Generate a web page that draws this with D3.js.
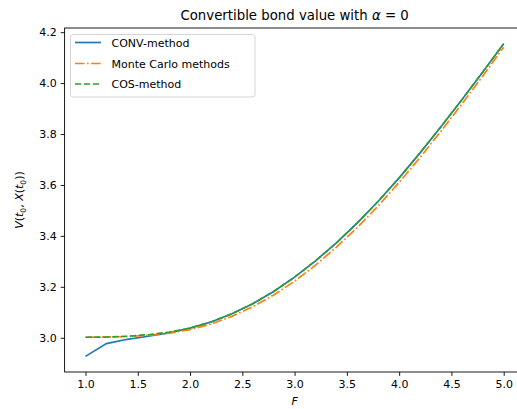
<!DOCTYPE html>
<html><head><meta charset="utf-8">
<script src="https://cdn.jsdelivr.net/npm/d3@7"></script>
<style>body{margin:0;background:#fff}svg{font-family:"DejaVu Sans",sans-serif}</style>
</head><body><svg id="c" width="517" height="409"></svg>
<script>
const F = [1.0,1.2,1.4,1.6,1.8,2.0,2.2,2.4,2.6,2.8,3.0,3.2,3.4,3.6,3.8,4.0,4.2,4.4,4.6,4.8,5.0];
const conv = [2.927,2.977,2.994,3.006,3.019,3.038,3.062,3.094,3.134,3.182,3.238,3.302,3.373,3.451,3.536,3.628,3.726,3.829,3.935,4.044,4.155];
const mc   = [3.002,3.003,3.005,3.010,3.018,3.032,3.054,3.084,3.122,3.168,3.222,3.285,3.356,3.433,3.518,3.610,3.708,3.811,3.918,4.028,4.141];
const cos  = [3.002,3.003,3.006,3.012,3.022,3.038,3.062,3.094,3.134,3.182,3.238,3.302,3.373,3.451,3.536,3.628,3.726,3.829,3.935,4.044,4.155];
const xTicks = [1.0,1.5,2.0,2.5,3.0,3.5,4.0,4.5,5.0];
const yTicks = [3.0,3.2,3.4,3.6,3.8,4.0,4.2];
const names = ["CONV-method","Monte Carlo methods","COS-method"];
const colors = ["#1f77b4","#ff7f0e","#2ca02c"];

const svg = d3.select("#c");
const L=64.6, R=524.6, T=28, B=372;
const allV = conv.concat(mc, cos);
const vmin=d3.min(allV), vmax=d3.max(allV), pad=(vmax-vmin)*0.05;
const x = d3.scaleLinear().domain([1-0.2,5+0.2]).range([L,R]);
const y = d3.scaleLinear().domain([vmin-pad,vmax+pad]).range([B,T]);

svg.append("clipPath").attr("id","cl").append("rect").attr("x",L).attr("y",T).attr("width",R-L).attr("height",B-T);
const line = d3.line().x((d,i)=>x(F[i])).y(d=>y(d));
const g = svg.append("g").attr("clip-path","url(#cl)");
const series=[conv,mc,cos];
const dashes=[null,"9.6,2.4,1.7,2.4","6.2,2.7"];
series.forEach((s,k)=>{
  g.append("path").attr("d",line(s)).attr("fill","none").attr("stroke",colors[k])
   .attr("stroke-width",1.67).attr("stroke-dasharray",dashes[k]);
});

const xa = svg.append("g").attr("transform",`translate(0,${B})`)
  .call(d3.axisBottom(x).tickValues(xTicks).tickFormat(d3.format(".1f")).tickSizeOuter(0).tickSize(3.9).tickPadding(3.9));
const ya = svg.append("g").attr("transform",`translate(${L},0)`)
  .call(d3.axisLeft(y).tickValues(yTicks).tickFormat(d3.format(".1f")).tickSizeOuter(0).tickSize(3.9).tickPadding(3.9));
[xa,ya].forEach(a=>{
  a.select(".domain").remove();
  a.selectAll("text").attr("font-size",11).attr("fill","#000").attr("font-family","DejaVu Sans");
  a.selectAll("line").attr("stroke","#000").attr("stroke-width",0.9);
});
svg.append("rect").attr("x",L).attr("y",T).attr("width",R-L).attr("height",B-T)
  .attr("fill","none").attr("stroke","#000").attr("stroke-width",0.9);

const t = svg.append("text").attr("x",(L+R)/2).attr("y",20).attr("text-anchor","middle").attr("font-size",13.3);
t.append("tspan").text("Convertible bond value with ");
t.append("tspan").attr("font-style","italic").text("α");
t.append("tspan").text(" = 0");

svg.append("text").attr("x",(L+R)/2).attr("y",405).attr("text-anchor","middle").attr("font-size",11).attr("font-style","italic").text("F");

const yl = svg.append("text").attr("transform",`translate(23,${(T+B)/2}) rotate(-90)`).attr("text-anchor","middle").attr("font-size",11);
yl.append("tspan").attr("font-style","italic").text("V");
yl.append("tspan").text("(");
yl.append("tspan").attr("font-style","italic").text("t");
yl.append("tspan").attr("font-size",7.7).attr("dy",2.5).text("0");
yl.append("tspan").attr("dy",-2.5).text(", ");
yl.append("tspan").attr("font-style","italic").text("X");
yl.append("tspan").text("(");
yl.append("tspan").attr("font-style","italic").text("t");
yl.append("tspan").attr("font-size",7.7).attr("dy",2.5).text("0");
yl.append("tspan").attr("dy",-2.5).text("))");

const lg = svg.append("g");
lg.append("rect").attr("x",70.5).attr("y",34.5).attr("width",184.5).attr("height",62.5).attr("rx",2.5)
  .attr("fill","#fff").attr("fill-opacity",0.8).attr("stroke","#d0d0d0").attr("stroke-width",0.9);
const ly=[42.5,63.5,84];
names.forEach((n,k)=>{
  lg.append("line").attr("x1",75).attr("x2",101).attr("y1",ly[k]).attr("y2",ly[k])
    .attr("stroke",colors[k]).attr("stroke-width",1.67).attr("stroke-dasharray",dashes[k]);
  lg.append("text").attr("x",111.5).attr("y",ly[k]+4).attr("font-size",11).text(n);
});
</script></body></html>
